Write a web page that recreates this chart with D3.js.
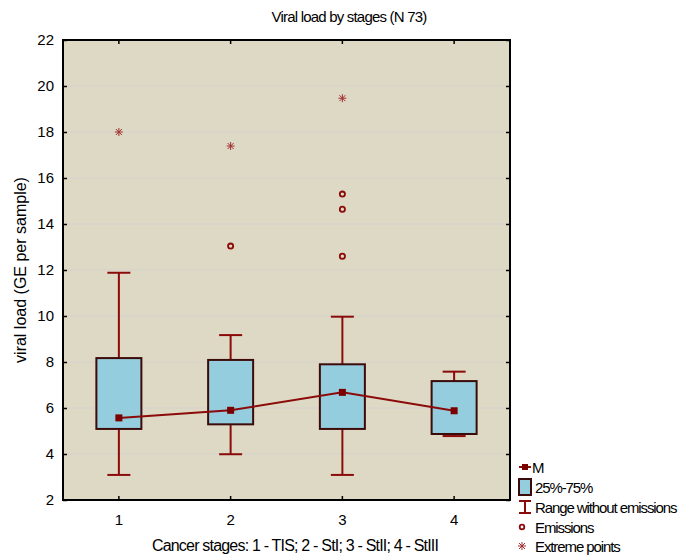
<!DOCTYPE html>
<html>
<head>
<meta charset="utf-8">
<script src="https://cdn.jsdelivr.net/npm/d3@7"></script>
<style>
  body { margin: 0; background: #fff; }
  text { font-family: "Liberation Sans", Arial, sans-serif; }
</style>
</head>
<body>
<div id="chart"></div>
<script>
const stages = ["1", "2", "3", "4"];
const q25 = [5.09, 5.29, 5.09, 4.87];
const q75 = [8.17, 8.09, 7.9, 7.17];
const whiskerLow = [3.09, 3.99, 3.09, 4.78];
const whiskerHigh = [11.88, 9.17, 9.97, 7.58];
const means = [5.57, 5.9, 6.68, 5.88];
const emissions = [[], [13.04], [15.3, 14.64, 12.6], []];
const extremes = [[18.0], [17.39], [19.47], []];
const yTicks = [2, 4, 6, 8, 10, 12, 14, 16, 18, 20, 22];
const legendItems = ["M", "25%-75%", "Range without emissions", "Emissions", "Extreme points"];

const width = 682, height = 555;
const margin = { left: 63, right: 172, top: 40, bottom: 55 };
const innerWidth = width - margin.left - margin.right;
const innerHeight = height - margin.top - margin.bottom;

const dark = "#8b0a0a";
const boxStroke = "#3d0a0a";

const svg = d3.select("#chart").append("svg")
  .attr("width", width).attr("height", height);

const g = svg.append("g")
  .attr("transform", `translate(${margin.left},${margin.top})`);

const x = d3.scaleBand().domain(stages).range([0, innerWidth]);
const y = d3.scaleLinear().domain([2, 22]).range([innerHeight, 0]);
const cx = s => x(s) + x.bandwidth() / 2;

g.append("rect")
  .attr("width", innerWidth).attr("height", innerHeight)
  .attr("fill", "#ded9c4");

// grid
g.selectAll(".grid").data(yTicks.slice(1, -1)).join("line")
  .attr("x1", 0).attr("x2", innerWidth)
  .attr("y1", d => y(d)).attr("y2", d => y(d))
  .attr("stroke", "#d4d2cc").attr("stroke-width", 1.2);

function asterisk(sel, px, py) {
  const a = sel.append("g").attr("transform", `translate(${px},${py})`)
    .attr("stroke", "#a03030").attr("stroke-width", 1);
  a.append("line").attr("x1", -4).attr("x2", 4).attr("y1", 0).attr("y2", 0);
  a.append("line").attr("x1", 0).attr("x2", 0).attr("y1", -4).attr("y2", 4);
  a.append("line").attr("x1", -3).attr("x2", 3).attr("y1", -3).attr("y2", 3);
  a.append("line").attr("x1", -3).attr("x2", 3).attr("y1", 3).attr("y2", -3);
}

// boxes and whiskers
const boxW = 45, capW = 23;
stages.forEach((s, i) => {
  const c = cx(s);
  g.append("line").attr("x1", c).attr("x2", c)
    .attr("y1", y(whiskerHigh[i])).attr("y2", y(q75[i]))
    .attr("stroke", dark).attr("stroke-width", 2);
  g.append("line").attr("x1", c).attr("x2", c)
    .attr("y1", y(q25[i])).attr("y2", y(whiskerLow[i]))
    .attr("stroke", dark).attr("stroke-width", 2);
  [whiskerHigh[i], whiskerLow[i]].forEach(v => {
    g.append("line").attr("x1", c - capW / 2).attr("x2", c + capW / 2)
      .attr("y1", y(v)).attr("y2", y(v))
      .attr("stroke", dark).attr("stroke-width", 2);
  });
  g.append("rect")
    .attr("x", c - boxW / 2).attr("width", boxW)
    .attr("y", y(q75[i])).attr("height", y(q25[i]) - y(q75[i]))
    .attr("fill", "#94cddd").attr("stroke", boxStroke).attr("stroke-width", 2);
  emissions[i].forEach(v => {
    g.append("circle").attr("cx", c).attr("cy", y(v)).attr("r", 2.6)
      .attr("fill", "none").attr("stroke", dark).attr("stroke-width", 1.8);
  });
  extremes[i].forEach(v => asterisk(g, c, y(v)));
});

// mean line
const line = d3.line().x((d, i) => cx(stages[i])).y(d => y(d));
g.append("path").attr("d", line(means))
  .attr("fill", "none").attr("stroke", dark).attr("stroke-width", 2);
g.selectAll(".mean").data(means).join("rect")
  .attr("x", (d, i) => cx(stages[i]) - 3.5).attr("y", d => y(d) - 3.5)
  .attr("width", 7).attr("height", 7).attr("fill", "#7a0000");

// axes with inner ticks
const yAxis = d3.axisLeft(y).tickValues(yTicks).tickSize(-4).tickPadding(9);
const yAxisR = d3.axisRight(y).tickValues(yTicks).tickSize(-4);
const xAxis = d3.axisBottom(x).tickSize(-4).tickPadding(14);
const xAxisT = d3.axisTop(x).tickSize(-4);

g.append("g").call(yAxis);
g.append("g").attr("transform", `translate(${innerWidth},0)`).call(yAxisR)
  .selectAll("text").remove();
g.append("g").attr("transform", `translate(0,${innerHeight})`).call(xAxis);
g.append("g").call(xAxisT).selectAll("text").remove();
g.selectAll(".domain").remove();
g.selectAll(".tick line").attr("stroke", "#000").attr("stroke-width", 1.5);
g.selectAll(".tick text").attr("font-size", 15).attr("fill", "#000")
  .attr("font-family", "'Liberation Sans', Arial, sans-serif");

g.append("rect").attr("width", innerWidth).attr("height", innerHeight)
  .attr("fill", "none").attr("stroke", "#000").attr("stroke-width", 2);

// titles
svg.append("text").attr("x", 349).attr("y", 22).attr("text-anchor", "middle")
  .attr("font-size", 15).style("letter-spacing", "-0.8px")
  .text("Viral load by stages (N 73)");
svg.append("text").attr("x", 295).attr("y", 551).attr("text-anchor", "middle")
  .attr("font-size", 16).style("letter-spacing", "-0.8px")
  .text("Cancer stages: 1 - TIS; 2 - StI; 3 - StII; 4 - StIII");
svg.append("text").attr("transform", "translate(26,270) rotate(-90)")
  .attr("text-anchor", "middle").attr("font-size", 16)
  .text("viral load (GE per sample)");

// legend
const lx = 519, ly = [467, 487, 507, 527, 546];
const lg = svg.append("g");
lg.append("line").attr("x1", lx).attr("x2", lx + 12).attr("y1", ly[0]).attr("y2", ly[0])
  .attr("stroke", dark).attr("stroke-width", 2);
lg.append("rect").attr("x", lx + 3).attr("y", ly[0] - 3).attr("width", 6).attr("height", 6)
  .attr("fill", "#7a0000");
lg.append("rect").attr("x", lx).attr("y", ly[1] - 8).attr("width", 12).attr("height", 16)
  .attr("fill", "#94cddd").attr("stroke", boxStroke).attr("stroke-width", 2);
lg.append("line").attr("x1", lx + 6).attr("x2", lx + 6).attr("y1", ly[2] - 6).attr("y2", ly[2] + 6)
  .attr("stroke", dark).attr("stroke-width", 2);
[ly[2] - 6, ly[2] + 6].forEach(v => lg.append("line")
  .attr("x1", lx).attr("x2", lx + 12).attr("y1", v).attr("y2", v)
  .attr("stroke", dark).attr("stroke-width", 2));
lg.append("circle").attr("cx", lx + 3).attr("cy", ly[3]).attr("r", 2.3)
  .attr("fill", "none").attr("stroke", dark).attr("stroke-width", 1.8);
asterisk(lg, lx + 3, ly[4]);

lg.selectAll(".ltxt").data(legendItems).join("text")
  .attr("x", (d, i) => i === 0 ? lx + 13 : lx + 16)
  .attr("y", (d, i) => ly[i] + 6)
  .attr("font-size", 15).style("letter-spacing", "-1.1px")
  .text(d => d);
</script>
</body>
</html>
